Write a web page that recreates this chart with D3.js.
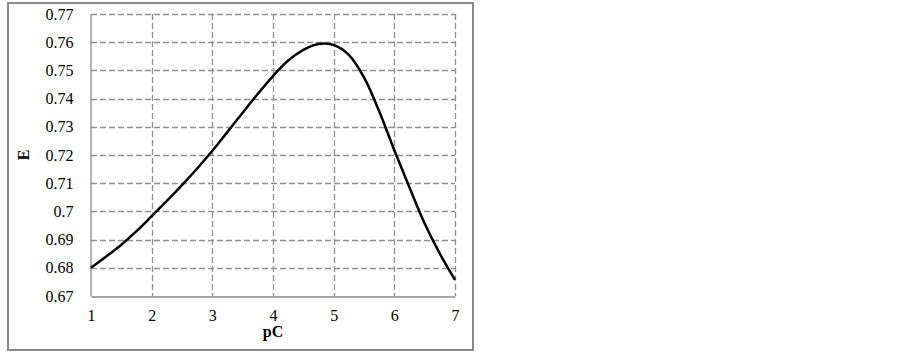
<!DOCTYPE html>
<html>
<head>
<meta charset="utf-8">
<script src="https://cdn.jsdelivr.net/npm/d3@7"></script>
<style>
  body { margin: 0; background: #fff; }
  text { font-family: "Liberation Serif", "Times New Roman", serif; }
</style>
</head>
<body>
<script>
// pC values and the E
const pC = [1.0, 1.25, 1.5, 1.75, 2.0, 2.25, 2.5, 2.75, 3.0, 3.25, 3.5, 3.75, 4.0,
            4.25, 4.5, 4.75, 5.0, 5.25, 5.5, 5.75, 6.0, 6.25, 6.5, 6.75, 7.0];
const E = [0.6800, 0.6840, 0.6882, 0.6930, 0.6983, 0.7037, 0.7093, 0.7152, 0.7215,
           0.7282, 0.7350, 0.7417, 0.7480, 0.7535, 0.7573, 0.7594, 0.7590, 0.7555,
           0.7475, 0.7355, 0.7217, 0.7085, 0.6957, 0.6850, 0.6757];
const xTicks = [1, 2, 3, 4, 5, 6, 7];
const yTicks = [0.67, 0.68, 0.69, 0.7, 0.71, 0.72, 0.73, 0.74, 0.75, 0.76, 0.77];

let svg = null;
let x, y = null;

const W = 903, H = 354;
const plot = {left: 91, right: 455, top: 14, bottom: 296};

svg = d3.select("body").append("svg")
    .attr("width", W)
    .attr("height", H);

// outer frame
svg.append("rect")
    .attr("x", 8).attr("y", 3)
    .attr("width", 465).attr("height", 347)
    .attr("fill", "none")
    .attr("stroke", "#8a8a8a")
    .attr("stroke-width", 2);

x = d3.scaleLinear().domain([1, 7]).range([plot.left, plot.right]);
y = d3.scaleLinear().domain([0.67, 0.77]).range([plot.bottom, plot.top]);

// dashed grid
svg.append("g").selectAll("line.h")
    .data(yTicks.slice(1))
    .join("line")
    .attr("x1", plot.left).attr("x2", plot.right)
    .attr("y1", d => Math.round(y(d)) + 0.5).attr("y2", d => Math.round(y(d)) + 0.5)
    .attr("stroke", "#909090")
    .attr("stroke-width", 1.3)
    .attr("stroke-dasharray", "6,3");

svg.append("g").selectAll("line.v")
    .data(xTicks.slice(1))
    .join("line")
    .attr("y1", plot.top).attr("y2", plot.bottom)
    .attr("x1", d => Math.round(x(d)) + 0.5).attr("x2", d => Math.round(x(d)) + 0.5)
    .attr("stroke", "#909090")
    .attr("stroke-width", 1.3)
    .attr("stroke-dasharray", "6,3");

// axes
const xAxis = svg.append("g")
    .attr("transform", `translate(0, ${plot.bottom + 0.5})`)
    .call(d3.axisBottom(x).tickValues(xTicks).tickSize(0).tickPadding(13).tickFormat(d3.format("d")));
const yAxis = svg.append("g")
    .attr("transform", `translate(${plot.left - 0.5}, 0)`)
    .call(d3.axisLeft(y).tickValues(yTicks).tickSize(0).tickPadding(17).tickFormat(d => String(+d.toFixed(2))));

[xAxis, yAxis].forEach(a => {
    a.select(".domain").attr("stroke", "#8a8a8a").attr("stroke-width", 1.3);
    a.selectAll("text")
        .attr("font-family", "Liberation Serif, serif")
        .attr("font-size", 16)
        .attr("fill", "#000");
});

// curve
const pts = pC.map((p, i) => [p, E[i]]);
svg.append("path")
    .datum(pts)
    .attr("fill", "none")
    .attr("stroke", "#000")
    .attr("stroke-width", 2.5)
    .attr("d", d3.line().x(d => x(d[0])).y(d => y(d[1])).curve(d3.curveCatmullRom.alpha(0.5)));

// axis titles
svg.append("text")
    .attr("x", (plot.left + plot.right) / 2)
    .attr("y", 337)
    .attr("text-anchor", "middle")
    .attr("font-size", 16)
    .attr("font-weight", "bold")
    .text("pC");

svg.append("text")
    .attr("transform", `translate(29, ${(plot.top + plot.bottom) / 2}) rotate(-90)`)
    .attr("text-anchor", "middle")
    .attr("font-size", 16)
    .attr("font-weight", "bold")
    .text("E");
</script>
</body>
</html>
